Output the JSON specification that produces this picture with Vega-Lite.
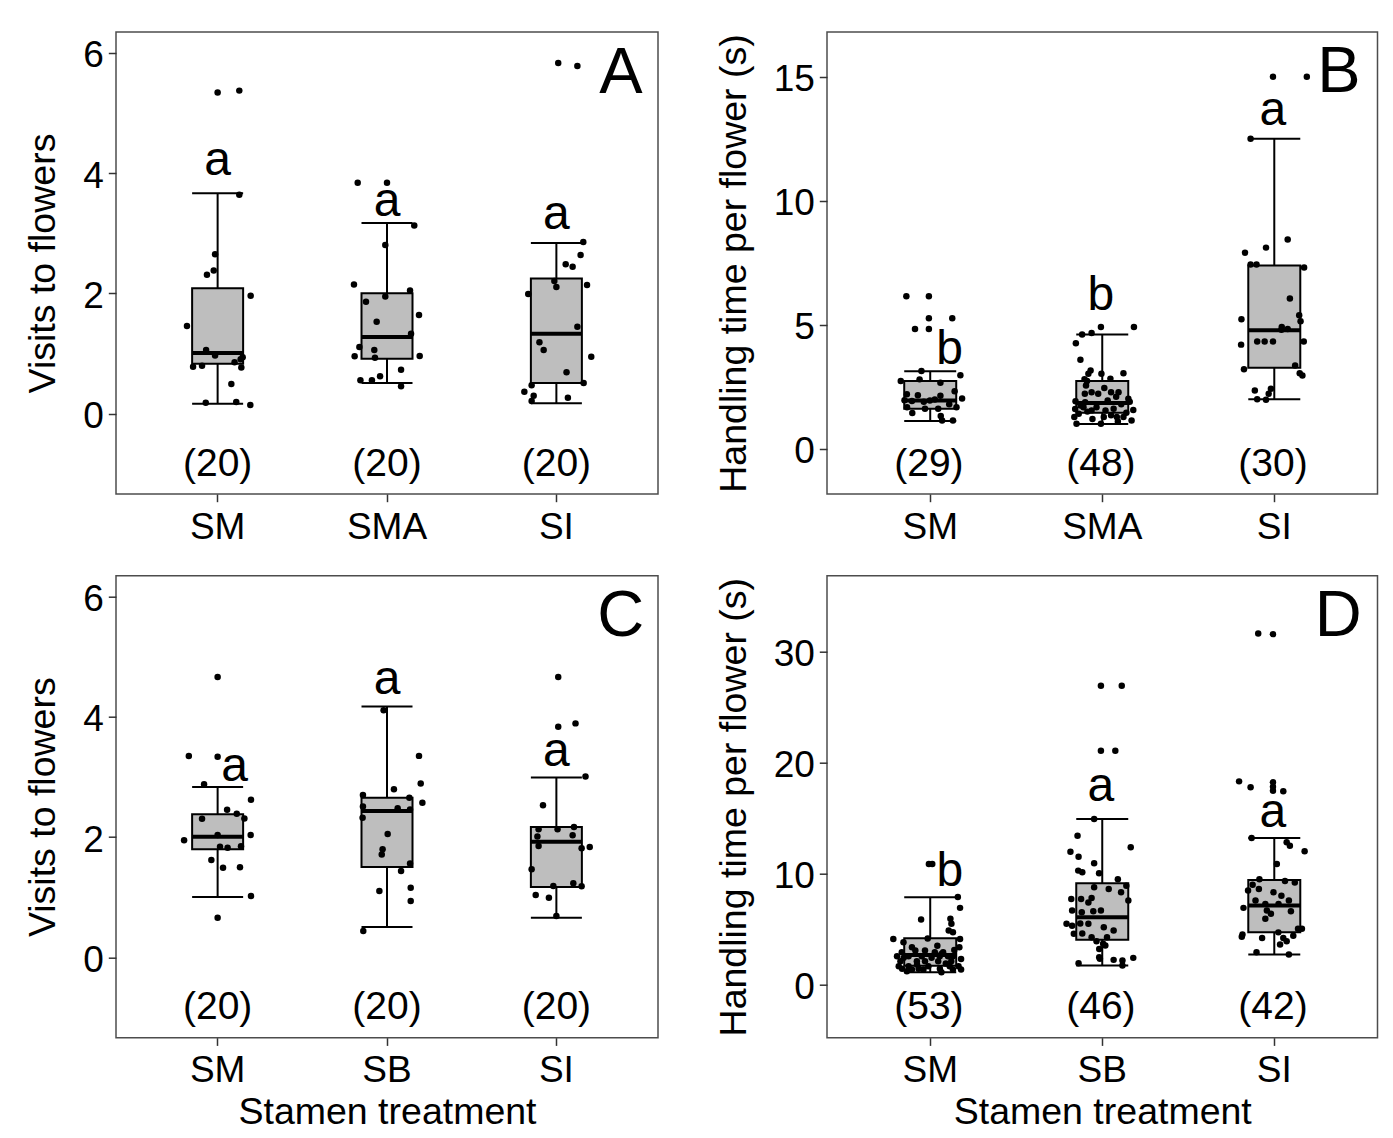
{
"$schema": "https://vega.github.io/schema/vega-lite/v6.json",
"background": "white",
"padding": {"left": 23, "top": 31, "right": 5, "bottom": 5},
"config": {
 "font": "Liberation Sans",
 "view": {"stroke": "#4d4d4d", "strokeWidth": 1.5},
 "axis": {"grid": false, "domain": false, "tickColor": "#333333", "tickWidth": 1.5, "tickSize": 7.7, "labelFontSize": 37, "labelColor": "black", "labelFont": "Liberation Sans", "titleFont": "Liberation Sans", "titleFontSize": 37.5, "titleFontWeight": "normal", "titleColor": "black", "labelPadding": 5, "labelOverlap": false, "labelFlush": false},
 "axisX": {"labelAngle": 0, "labelPadding": 7.5, "titlePadding": 5},
 "axisY": {"titlePadding": 20, "labelOffset": 3, "format": "d"},
 "tick": {"opacity": 1},
 "rule": {"opacity": 1},
 "text": {"font": "Liberation Sans", "color": "black"}
},
"datasets": {
 "boxA": [
  {"c":"SM","lo":0.168,"q1":0.833,"med":1.01,"q3":2.085,"hi":3.664},
  {"c":"SMA","lo":0.512,"q1":0.916,"med":1.276,"q3":2.002,"hi":3.17},
  {"c":"SI","lo":0.174,"q1":0.512,"med":1.33,"q3":2.25,"hi":2.838}
 ],
 "ptsA": [
  {"c":"SM","v":5.34,"j":0},{"c":"SM","v":5.37,"j":0.128},{"c":"SM","v":3.64,"j":0.128},{"c":"SM","v":2.65,"j":-0.015},{"c":"SM","v":2.31,"j":-0.063},{"c":"SM","v":2.38,"j":-0.023},{"c":"SM","v":1.96,"j":0.195},{"c":"SM","v":1.46,"j":-0.181},{"c":"SM","v":1.06,"j":-0.068},{"c":"SM","v":0.97,"j":-0.015},{"c":"SM","v":0.94,"j":0.148},{"c":"SM","v":0.905,"j":0.136},{"c":"SM","v":0.855,"j":0.1},{"c":"SM","v":0.78,"j":-0.145},{"c":"SM","v":0.8,"j":-0.092},{"c":"SM","v":0.77,"j":0.14},{"c":"SM","v":0.495,"j":0.081},{"c":"SM","v":0.185,"j":-0.07},{"c":"SM","v":0.196,"j":0.11},{"c":"SM","v":0.146,"j":0.193},
  {"c":"SMA","v":3.84,"j":-0.173},{"c":"SMA","v":3.84,"j":0},{"c":"SMA","v":2.805,"j":-0.01},{"c":"SMA","v":2.15,"j":-0.195},{"c":"SMA","v":1.86,"j":-0.124},{"c":"SMA","v":1.95,"j":-0.01},{"c":"SMA","v":1.53,"j":-0.061},{"c":"SMA","v":1.11,"j":-0.163},{"c":"SMA","v":1.06,"j":-0.075},{"c":"SMA","v":0.93,"j":-0.071},{"c":"SMA","v":0.955,"j":-0.191},{"c":"SMA","v":0.556,"j":-0.157},{"c":"SMA","v":0.556,"j":-0.089},{"c":"SMA","v":0.623,"j":-0.041},{"c":"SMA","v":3.13,"j":0.161},{"c":"SMA","v":2.05,"j":0.136},{"c":"SMA","v":1.64,"j":0.189},{"c":"SMA","v":1.33,"j":0.142},{"c":"SMA","v":0.96,"j":0.193},{"c":"SMA","v":0.733,"j":0.083},{"c":"SMA","v":0.457,"j":0.083},
  {"c":"SI","v":5.83,"j":0.011},{"c":"SI","v":5.78,"j":0.124},{"c":"SI","v":2.855,"j":0.159},{"c":"SI","v":2.64,"j":0.143},{"c":"SI","v":2.484,"j":0.055},{"c":"SI","v":2.445,"j":0.096},{"c":"SI","v":2.207,"j":-0.012},{"c":"SI","v":2.107,"j":0},{"c":"SI","v":2.14,"j":0.181},{"c":"SI","v":1.99,"j":-0.166},{"c":"SI","v":1.447,"j":0.124},{"c":"SI","v":1.188,"j":-0.1},{"c":"SI","v":1.06,"j":-0.075},{"c":"SI","v":0.949,"j":0.206},{"c":"SI","v":0.69,"j":0.06},{"c":"SI","v":0.512,"j":0.161},{"c":"SI","v":0.473,"j":-0.146},{"c":"SI","v":0.367,"j":-0.189},{"c":"SI","v":0.3,"j":-0.134},{"c":"SI","v":0.213,"j":-0.146},{"c":"SI","v":0.268,"j":0.068}
 ],
 "txtA": [
  {"c":"SM","v":3.97,"j":0,"t":"a","k":"sig"},{"c":"SMA","v":3.29,"j":0,"t":"a","k":"sig"},{"c":"SI","v":3.066,"j":0,"t":"a","k":"sig"},
  {"c":"SM","v":-1.034,"j":0,"t":"(20)","k":"n"},{"c":"SMA","v":-1.034,"j":0,"t":"(20)","k":"n"},{"c":"SI","v":-1.034,"j":0,"t":"(20)","k":"n"},
  {"c":"SI","v":5.336,"j":0.381,"t":"A","k":"panel"}
 ],
 "boxB": [
  {"c":"SM","lo":1.12,"q1":1.62,"med":1.95,"q3":2.73,"hi":3.13},
  {"c":"SMA","lo":1.0,"q1":1.45,"med":1.85,"q3":2.73,"hi":4.61},
  {"c":"SI","lo":2.0,"q1":3.27,"med":4.78,"q3":7.39,"hi":12.5}
 ],
 "ptsB": [
  {"c":"SM","v":6.15,"j":-0.133},{"c":"SM","v":6.15,"j":0},{"c":"SM","v":5.26,"j":0},{"c":"SM","v":5.26,"j":0.138},{"c":"SM","v":4.83,"j":-0.082},{"c":"SM","v":4.83,"j":0},{"c":"SM","v":3.14,"j":-0.044},{"c":"SM","v":2.97,"j":0.186},{"c":"SM","v":2.73,"j":-0.166},{"c":"SM","v":2.8,"j":-0.055},{"c":"SM","v":2.66,"j":0.068},{"c":"SM","v":2.325,"j":0.152},{"c":"SM","v":2.16,"j":-0.065},{"c":"SM","v":2.03,"j":0.196},{"c":"SM","v":2.14,"j":0.068},{"c":"SM","v":1.96,"j":-0.144},{"c":"SM","v":1.93,"j":-0.1},{"c":"SM","v":1.95,"j":0.006},{"c":"SM","v":1.99,"j":0.035},{"c":"SM","v":1.9,"j":-0.03},{"c":"SM","v":1.68,"j":-0.129},{"c":"SM","v":1.62,"j":-0.023},{"c":"SM","v":1.62,"j":0.055},{"c":"SM","v":1.68,"j":0.163},{"c":"SM","v":1.44,"j":-0.098},{"c":"SM","v":1.32,"j":0.07},{"c":"SM","v":1.14,"j":0.078},{"c":"SM","v":1.14,"j":0.142},{"c":"SM","v":2.2,"j":-0.13},{"c":"SM","v":1.8,"j":0.12},
  {"c":"SMA","v":4.91,"j":0},{"c":"SMA","v":4.91,"j":0.195},{"c":"SMA","v":4.67,"j":-0.055},{"c":"SMA","v":4.61,"j":-0.111},{"c":"SMA","v":4.26,"j":-0.148},{"c":"SMA","v":3.59,"j":-0.121},{"c":"SMA","v":3.16,"j":-0.061},{"c":"SMA","v":3.03,"j":-0.074},{"c":"SMA","v":3.03,"j":0.003},{"c":"SMA","v":2.73,"j":-0.082},{"c":"SMA","v":2.55,"j":-0.088},{"c":"SMA","v":2.22,"j":-0.095},{"c":"SMA","v":3.05,"j":0.133},{"c":"SMA","v":2.83,"j":0.056},{"c":"SMA","v":2.02,"j":0.162},{"c":"SMA","v":2.28,"j":0.06},{"c":"SMA","v":2.28,"j":0.104},{"c":"SMA","v":1.57,"j":0.191},{"c":"SMA","v":1.14,"j":0.181},{"c":"SMA","v":1.28,"j":0.133},{"c":"SMA","v":1.28,"j":0.094},{"c":"SMA","v":1.55,"j":0.027},{"c":"SMA","v":1.62,"j":0.075},{"c":"SMA","v":1.28,"j":0.017},{"c":"SMA","v":1.92,"j":-0.15},{"c":"SMA","v":1.41,"j":-0.131},{"c":"SMA","v":1.28,"j":-0.157},{"c":"SMA","v":1.88,"j":-0.093},{"c":"SMA","v":1.55,"j":-0.055},{"c":"SMA","v":1.68,"j":-0.026},{"c":"SMA","v":1.61,"j":-0.152},{"c":"SMA","v":1.68,"j":-0.103},{"c":"SMA","v":1.01,"j":-0.144},{"c":"SMA","v":1.01,"j":0},{"c":"SMA","v":2.28,"j":-0.055},{"c":"SMA","v":2.22,"j":-0.016},{"c":"SMA","v":2.81,"j":-0.097},{"c":"SMA","v":1.95,"j":0.04},{"c":"SMA","v":1.8,"j":0.12},{"c":"SMA","v":1.45,"j":0.15},{"c":"SMA","v":1.2,"j":-0.05},{"c":"SMA","v":1.35,"j":0.06},{"c":"SMA","v":2.1,"j":0.09},{"c":"SMA","v":1.75,"j":-0.12},{"c":"SMA","v":1.1,"j":0.1},{"c":"SMA","v":2.45,"j":0.02},{"c":"SMA","v":1.5,"j":-0.08},{"c":"SMA","v":1.9,"j":0.17},
  {"c":"SI","v":15.0,"j":0},{"c":"SI","v":15.0,"j":0.2},{"c":"SI","v":12.5,"j":-0.132},{"c":"SI","v":8.44,"j":0.087},{"c":"SI","v":8.11,"j":-0.041},{"c":"SI","v":7.9,"j":-0.165},{"c":"SI","v":7.43,"j":-0.132},{"c":"SI","v":7.43,"j":-0.097},{"c":"SI","v":7.31,"j":0.184},{"c":"SI","v":6.06,"j":0.1},{"c":"SI","v":5.22,"j":-0.186},{"c":"SI","v":5.38,"j":0.155},{"c":"SI","v":5.14,"j":0.163},{"c":"SI","v":4.91,"j":0.052},{"c":"SI","v":4.83,"j":0.087},{"c":"SI","v":4.33,"j":-0.093},{"c":"SI","v":4.33,"j":-0.049},{"c":"SI","v":4.33,"j":0},{"c":"SI","v":4.2,"j":-0.188},{"c":"SI","v":4.33,"j":0.182},{"c":"SI","v":3.36,"j":0.131},{"c":"SI","v":3.21,"j":-0.171},{"c":"SI","v":3.05,"j":0.158},{"c":"SI","v":2.96,"j":0.174},{"c":"SI","v":2.42,"j":-0.012},{"c":"SI","v":2.35,"j":-0.107},{"c":"SI","v":2.22,"j":-0.025},{"c":"SI","v":2.0,"j":-0.093},{"c":"SI","v":1.98,"j":-0.041},{"c":"SI","v":4.8,"j":0.05}
 ],
 "txtB": [
  {"c":"SM","v":3.43,"j":0.122,"t":"b","k":"sig"},{"c":"SMA","v":5.6,"j":0,"t":"b","k":"sig"},{"c":"SI","v":13.05,"j":0,"t":"a","k":"sig"},
  {"c":"SM","v":-1.08,"j":0,"t":"(29)","k":"n"},{"c":"SMA","v":-1.08,"j":0,"t":"(48)","k":"n"},{"c":"SI","v":-1.08,"j":0,"t":"(30)","k":"n"},
  {"c":"SI","v":14.4,"j":0.39,"t":"B","k":"panel"}
 ],
 "boxC": [
  {"c":"SM","lo":1.005,"q1":1.8,"med":2.008,"q3":2.38,"hi":2.833},
  {"c":"SB","lo":0.507,"q1":1.504,"med":2.434,"q3":2.655,"hi":4.17},
  {"c":"SI","lo":0.661,"q1":1.17,"med":1.925,"q3":2.17,"hi":2.99}
 ],
 "ptsC": [
  {"c":"SM","v":4.66,"j":0},{"c":"SM","v":3.348,"j":-0.17},{"c":"SM","v":3.337,"j":0},{"c":"SM","v":2.878,"j":-0.08},{"c":"SM","v":2.62,"j":0.197},{"c":"SM","v":2.456,"j":0.056},{"c":"SM","v":2.39,"j":0.113},{"c":"SM","v":2.31,"j":0.158},{"c":"SM","v":2.306,"j":-0.092},{"c":"SM","v":1.948,"j":-0.198},{"c":"SM","v":2.035,"j":0},{"c":"SM","v":2.035,"j":0.195},{"c":"SM","v":1.84,"j":0.014},{"c":"SM","v":1.825,"j":0.059},{"c":"SM","v":1.85,"j":0.138},{"c":"SM","v":1.62,"j":-0.037},{"c":"SM","v":1.49,"j":0.032},{"c":"SM","v":1.5,"j":0.132},{"c":"SM","v":1.02,"j":0.197},{"c":"SM","v":0.66,"j":0},
  {"c":"SB","v":4.11,"j":-0.02},{"c":"SB","v":2.795,"j":0.041},{"c":"SB","v":2.7,"j":-0.142},{"c":"SB","v":2.51,"j":-0.142},{"c":"SB","v":2.32,"j":-0.144},{"c":"SB","v":2.05,"j":0.004},{"c":"SB","v":1.8,"j":-0.026},{"c":"SB","v":1.71,"j":-0.031},{"c":"SB","v":1.105,"j":-0.045},{"c":"SB","v":0.44,"j":-0.14},{"c":"SB","v":3.35,"j":0.189},{"c":"SB","v":2.89,"j":0.199},{"c":"SB","v":2.57,"j":0.209},{"c":"SB","v":2.655,"j":0.132},{"c":"SB","v":2.48,"j":0.063},{"c":"SB","v":2.46,"j":0.136},{"c":"SB","v":1.56,"j":0.136},{"c":"SB","v":1.437,"j":0.083},{"c":"SB","v":1.16,"j":0.14},{"c":"SB","v":0.94,"j":0.14},
  {"c":"SI","v":4.66,"j":0.011},{"c":"SI","v":3.835,"j":0.011},{"c":"SI","v":3.89,"j":0.113},{"c":"SI","v":3.007,"j":0.172},{"c":"SI","v":2.53,"j":-0.079},{"c":"SI","v":2.13,"j":-0.105},{"c":"SI","v":2.13,"j":0.007},{"c":"SI","v":2.17,"j":0.104},{"c":"SI","v":2.01,"j":-0.112},{"c":"SI","v":2.03,"j":0.096},{"c":"SI","v":1.853,"j":-0.105},{"c":"SI","v":1.815,"j":0.149},{"c":"SI","v":1.836,"j":0.197},{"c":"SI","v":1.465,"j":-0.146},{"c":"SI","v":1.188,"j":-0.018},{"c":"SI","v":1.233,"j":0.1},{"c":"SI","v":1.183,"j":0.149},{"c":"SI","v":1.04,"j":-0.122},{"c":"SI","v":0.994,"j":-0.044},{"c":"SI","v":0.69,"j":0}
 ],
 "txtC": [
  {"c":"SM","v":2.93,"j":0.1,"t":"a","k":"sig"},{"c":"SB","v":4.37,"j":0,"t":"a","k":"sig"},{"c":"SI","v":3.18,"j":0,"t":"a","k":"sig"},
  {"c":"SM","v":-1.03,"j":0,"t":"(20)","k":"n"},{"c":"SB","v":-1.03,"j":0,"t":"(20)","k":"n"},{"c":"SI","v":-1.03,"j":0,"t":"(20)","k":"n"},
  {"c":"SI","v":5.34,"j":0.38,"t":"C","k":"panel"}
 ],
 "boxD": [
  {"c":"SM","lo":1.11,"q1":1.7,"med":2.67,"q3":4.17,"hi":7.87},
  {"c":"SB","lo":1.71,"q1":4.03,"med":6.06,"q3":9.13,"hi":14.93},
  {"c":"SI","lo":2.7,"q1":4.71,"med":7.12,"q3":9.43,"hi":13.21}
 ],
 "ptsD": [
  {"c":"SM","v":10.87,"j":0},{"c":"SM","v":10.87,"j":0.02},{"c":"SM","v":7.9,"j":0.171},{"c":"SM","v":6.91,"j":0.184},{"c":"SM","v":5.92,"j":0.127},{"c":"SM","v":5.47,"j":0.133},{"c":"SM","v":4.86,"j":0.117},{"c":"SM","v":4.71,"j":0.142},{"c":"SM","v":5.86,"j":-0.046},{"c":"SM","v":4.11,"j":-0.21},{"c":"SM","v":4.14,"j":-0.007},{"c":"SM","v":4.11,"j":0.184},{"c":"SM","v":3.36,"j":0.18},{"c":"SM","v":3.36,"j":-0.1},{"c":"SM","v":3.06,"j":-0.08},{"c":"SM","v":3.06,"j":-0.023},{"c":"SM","v":2.91,"j":0.035},{"c":"SM","v":2.76,"j":0.074},{"c":"SM","v":2.91,"j":0.084},{"c":"SM","v":2.55,"j":-0.188},{"c":"SM","v":2.4,"j":-0.149},{"c":"SM","v":2.55,"j":-0.12},{"c":"SM","v":2.55,"j":-0.042},{"c":"SM","v":2.4,"j":0.016},{"c":"SM","v":2.55,"j":0.064},{"c":"SM","v":2.55,"j":0.113},{"c":"SM","v":2.55,"j":0.142},{"c":"SM","v":2.1,"j":-0.168},{"c":"SM","v":2.1,"j":-0.071},{"c":"SM","v":2.1,"j":-0.023},{"c":"SM","v":2.1,"j":0.055},{"c":"SM","v":2.1,"j":0.132},{"c":"SM","v":1.65,"j":-0.178},{"c":"SM","v":1.65,"j":-0.12},{"c":"SM","v":1.41,"j":-0.061},{"c":"SM","v":1.65,"j":-0.003},{"c":"SM","v":1.41,"j":0.065},{"c":"SM","v":1.65,"j":0.123},{"c":"SM","v":1.65,"j":0.175},{"c":"SM","v":1.35,"j":0.19},{"c":"SM","v":1.41,"j":-0.158},{"c":"SM","v":1.35,"j":-0.1},{"c":"SM","v":1.35,"j":-0.032},{"c":"SM","v":1.11,"j":0.074},{"c":"SM","v":1.35,"j":0.142},{"c":"SM","v":3.8,"j":-0.15},{"c":"SM","v":3.5,"j":0.05},{"c":"SM","v":2.9,"j":-0.16},{"c":"SM","v":1.9,"j":0.1},{"c":"SM","v":1.2,"j":-0.13},{"c":"SM","v":2.3,"j":0.19},{"c":"SM","v":1.8,"j":-0.07},{"c":"SM","v":3.1,"j":0.15},
  {"c":"SB","v":26.94,"j":0},{"c":"SB","v":26.94,"j":0.123},{"c":"SB","v":21.08,"j":0},{"c":"SB","v":21.08,"j":0.085},{"c":"SB","v":14.93,"j":-0.04},{"c":"SB","v":13.42,"j":-0.138},{"c":"SB","v":11.98,"j":-0.18},{"c":"SB","v":11.53,"j":-0.132},{"c":"SB","v":10.27,"j":-0.134},{"c":"SB","v":10.12,"j":-0.11},{"c":"SB","v":10.93,"j":-0.04},{"c":"SB","v":10.03,"j":-0.011},{"c":"SB","v":8.77,"j":-0.04},{"c":"SB","v":7.72,"j":-0.175},{"c":"SB","v":7.72,"j":-0.117},{"c":"SB","v":7.4,"j":-0.074},{"c":"SB","v":7.8,"j":-0.055},{"c":"SB","v":6.67,"j":-0.17},{"c":"SB","v":6.51,"j":-0.113},{"c":"SB","v":6.6,"j":-0.045},{"c":"SB","v":5.47,"j":-0.203},{"c":"SB","v":5.3,"j":-0.17},{"c":"SB","v":5.5,"j":-0.122},{"c":"SB","v":5.47,"j":-0.074},{"c":"SB","v":4.57,"j":-0.16},{"c":"SB","v":4.6,"j":-0.11},{"c":"SB","v":4.26,"j":-0.055},{"c":"SB","v":3.9,"j":-0.026},{"c":"SB","v":3.67,"j":0.013},{"c":"SB","v":2.32,"j":-0.006},{"c":"SB","v":1.92,"j":-0.132},{"c":"SB","v":12.37,"j":0.176},{"c":"SB","v":8.62,"j":0.046},{"c":"SB","v":8.32,"j":0.119},{"c":"SB","v":7.57,"j":0.162},{"c":"SB","v":6.67,"j":0.0},{"c":"SB","v":5.16,"j":0.017},{"c":"SB","v":4.86,"j":0.075},{"c":"SB","v":4.26,"j":0.036},{"c":"SB","v":3.51,"j":0.026},{"c":"SB","v":3.21,"j":-0.01},{"c":"SB","v":2.46,"j":-0.01},{"c":"SB","v":2.22,"j":0.075},{"c":"SB","v":2.16,"j":0.127},{"c":"SB","v":2.4,"j":0.191},{"c":"SB","v":1.71,"j":0.127},{"c":"SB","v":9.5,"j":0.1},{"c":"SB","v":8.9,"j":0.15},
  {"c":"SI","v":31.65,"j":-0.087},{"c":"SI","v":31.6,"j":0},{"c":"SI","v":18.32,"j":-0.2},{"c":"SI","v":17.78,"j":-0.132},{"c":"SI","v":18.23,"j":0},{"c":"SI","v":17.84,"j":0},{"c":"SI","v":17.48,"j":0},{"c":"SI","v":17.42,"j":0.061},{"c":"SI","v":13.21,"j":-0.126},{"c":"SI","v":12.82,"j":0.081},{"c":"SI","v":12.52,"j":0.1},{"c":"SI","v":12.01,"j":0.187},{"c":"SI","v":10.87,"j":0.023},{"c":"SI","v":9.5,"j":-0.08},{"c":"SI","v":9.33,"j":0.071},{"c":"SI","v":9.2,"j":0.129},{"c":"SI","v":8.47,"j":-0.147},{"c":"SI","v":8.62,"j":-0.083},{"c":"SI","v":8.32,"j":0.003},{"c":"SI","v":7.57,"j":0.094},{"c":"SI","v":7.57,"j":-0.103},{"c":"SI","v":7.27,"j":-0.045},{"c":"SI","v":7.27,"j":0.033},{"c":"SI","v":6.67,"j":-0.036},{"c":"SI","v":6.37,"j":-0.012},{"c":"SI","v":6.6,"j":0.106},{"c":"SI","v":6.91,"j":-0.174},{"c":"SI","v":5.92,"j":-0.045},{"c":"SI","v":5.02,"j":0.148},{"c":"SI","v":5.02,"j":0.171},{"c":"SI","v":4.3,"j":-0.184},{"c":"SI","v":4.2,"j":-0.064},{"c":"SI","v":4.7,"j":0.032},{"c":"SI","v":4.2,"j":0.061},{"c":"SI","v":3.9,"j":0.081},{"c":"SI","v":4.4,"j":0.12},{"c":"SI","v":3.6,"j":0.042},{"c":"SI","v":4.5,"j":-0.18},{"c":"SI","v":2.91,"j":-0.097},{"c":"SI","v":2.7,"j":0.094},{"c":"SI","v":8.0,"j":0.05},{"c":"SI","v":9.0,"j":-0.12}
 ],
 "txtD": [
  {"c":"SM","v":8.92,"j":0.124,"t":"b","k":"sig"},{"c":"SB","v":16.58,"j":0,"t":"a","k":"sig"},{"c":"SI","v":14.17,"j":0,"t":"a","k":"sig"},
  {"c":"SM","v":-3.09,"j":0,"t":"(53)","k":"n"},{"c":"SB","v":-3.09,"j":0,"t":"(46)","k":"n"},{"c":"SI","v":-3.09,"j":0,"t":"(42)","k":"n"},
  {"c":"SI","v":31.44,"j":0.386,"t":"D","k":"panel"}
 ]
},
"bounds": "flush",
"columns": 2,
"spacing": {"row": 81.7, "column": 169},
"concat": [
  {"width": 542, "height": 462,
   "encoding": {"x": {"field": "c", "type": "nominal", "sort": null, "scale": {"type": "band", "domain": ["SM","SMA","SI"], "paddingInner": 0, "paddingOuter": 0.1}, "axis": {"title": null}}},
   "layer": [
    {"data": {"name": "boxA"}, "mark": {"type": "rule", "color": "black", "strokeWidth": 2}, "encoding": {"y": {"field": "lo", "type": "quantitative", "title": "Visits to flowers", "scale": {"domain": [-1.333, 6.344], "nice": false, "zero": false}, "axis": {"values": [0,2,4,6]}}, "y2": {"field": "hi"}}},
    {"data": {"name": "boxA"}, "mark": {"type": "tick", "color": "black", "size": 51, "thickness": 2}, "encoding": {"y": {"field": "lo", "type": "quantitative", "title": "Visits to flowers"}}},
    {"data": {"name": "boxA"}, "mark": {"type": "tick", "color": "black", "size": 51, "thickness": 2}, "encoding": {"y": {"field": "hi", "type": "quantitative", "title": "Visits to flowers"}}},
    {"data": {"name": "boxA"}, "mark": {"type": "bar", "fill": "#bebebe", "stroke": "black", "strokeWidth": 2, "width": 51}, "encoding": {"y": {"field": "q1", "type": "quantitative", "title": "Visits to flowers"}, "y2": {"field": "q3"}}},
    {"data": {"name": "boxA"}, "mark": {"type": "tick", "color": "black", "size": 51, "thickness": 4}, "encoding": {"y": {"field": "med", "type": "quantitative", "title": "Visits to flowers"}}},
    {"data": {"name": "ptsA"}, "mark": {"type": "circle", "color": "black", "opacity": 1, "size": 42}, "encoding": {"xOffset": {"field": "j", "type": "quantitative", "scale": {"domain": [-0.5, 0.5]}}, "y": {"field": "v", "type": "quantitative", "title": "Visits to flowers"}}},
    {"data": {"name": "txtA"}, "transform": [{"filter": {"field": "k", "equal": "sig"}}], "mark": {"type": "text", "fontSize": 48, "align": "center", "baseline": "alphabetic"}, "encoding": {"xOffset": {"field": "j", "type": "quantitative"}, "y": {"field": "v", "type": "quantitative", "title": "Visits to flowers"}, "text": {"field": "t"}}},
    {"data": {"name": "txtA"}, "transform": [{"filter": {"field": "k", "equal": "n"}}], "mark": {"type": "text", "fontSize": 39, "align": "center", "baseline": "alphabetic"}, "encoding": {"xOffset": {"field": "j", "type": "quantitative"}, "y": {"field": "v", "type": "quantitative", "title": "Visits to flowers"}, "text": {"field": "t"}}},
    {"data": {"name": "txtA"}, "transform": [{"filter": {"field": "k", "equal": "panel"}}], "mark": {"type": "text", "fontSize": 65, "align": "center", "baseline": "alphabetic"}, "encoding": {"xOffset": {"field": "j", "type": "quantitative"}, "y": {"field": "v", "type": "quantitative", "title": "Visits to flowers"}, "text": {"field": "t"}}}
   ]
  },
  {"width": 550.5, "height": 462,
   "encoding": {"x": {"field": "c", "type": "nominal", "sort": null, "scale": {"type": "band", "domain": ["SM","SMA","SI"], "paddingInner": 0, "paddingOuter": 0.1}, "axis": {"title": null}}},
   "layer": [
    {"data": {"name": "boxB"}, "mark": {"type": "rule", "color": "black", "strokeWidth": 2}, "encoding": {"y": {"field": "lo", "type": "quantitative", "title": "Handling time per flower (s)", "scale": {"domain": [-1.82, 16.8], "nice": false, "zero": false}, "axis": {"values": [0,5,10,15]}}, "y2": {"field": "hi"}}},
    {"data": {"name": "boxB"}, "mark": {"type": "tick", "color": "black", "size": 52, "thickness": 2}, "encoding": {"y": {"field": "lo", "type": "quantitative", "title": "Handling time per flower (s)"}}},
    {"data": {"name": "boxB"}, "mark": {"type": "tick", "color": "black", "size": 52, "thickness": 2}, "encoding": {"y": {"field": "hi", "type": "quantitative", "title": "Handling time per flower (s)"}}},
    {"data": {"name": "boxB"}, "mark": {"type": "bar", "fill": "#bebebe", "stroke": "black", "strokeWidth": 2, "width": 52}, "encoding": {"y": {"field": "q1", "type": "quantitative", "title": "Handling time per flower (s)"}, "y2": {"field": "q3"}}},
    {"data": {"name": "boxB"}, "mark": {"type": "tick", "color": "black", "size": 52, "thickness": 4}, "encoding": {"y": {"field": "med", "type": "quantitative", "title": "Handling time per flower (s)"}}},
    {"data": {"name": "ptsB"}, "mark": {"type": "circle", "color": "black", "opacity": 1, "size": 42}, "encoding": {"xOffset": {"field": "j", "type": "quantitative", "scale": {"domain": [-0.5, 0.5]}}, "y": {"field": "v", "type": "quantitative", "title": "Handling time per flower (s)"}}},
    {"data": {"name": "txtB"}, "transform": [{"filter": {"field": "k", "equal": "sig"}}], "mark": {"type": "text", "fontSize": 48, "align": "center", "baseline": "alphabetic"}, "encoding": {"xOffset": {"field": "j", "type": "quantitative"}, "y": {"field": "v", "type": "quantitative", "title": "Handling time per flower (s)"}, "text": {"field": "t"}}},
    {"data": {"name": "txtB"}, "transform": [{"filter": {"field": "k", "equal": "n"}}], "mark": {"type": "text", "fontSize": 39, "align": "center", "baseline": "alphabetic"}, "encoding": {"xOffset": {"field": "j", "type": "quantitative"}, "y": {"field": "v", "type": "quantitative", "title": "Handling time per flower (s)"}, "text": {"field": "t"}}},
    {"data": {"name": "txtB"}, "transform": [{"filter": {"field": "k", "equal": "panel"}}], "mark": {"type": "text", "fontSize": 65, "align": "center", "baseline": "alphabetic"}, "encoding": {"xOffset": {"field": "j", "type": "quantitative"}, "y": {"field": "v", "type": "quantitative", "title": "Handling time per flower (s)"}, "text": {"field": "t"}}}
   ]
  },
  {"width": 542, "height": 462,
   "encoding": {"x": {"field": "c", "type": "nominal", "sort": null, "scale": {"type": "band", "domain": ["SM","SB","SI"], "paddingInner": 0, "paddingOuter": 0.1}, "axis": {"title": "Stamen treatment"}}},
   "layer": [
    {"data": {"name": "boxC"}, "mark": {"type": "rule", "color": "black", "strokeWidth": 2}, "encoding": {"y": {"field": "lo", "type": "quantitative", "title": "Visits to flowers", "scale": {"domain": [-1.333, 6.344], "nice": false, "zero": false}, "axis": {"values": [0,2,4,6]}}, "y2": {"field": "hi"}}},
    {"data": {"name": "boxC"}, "mark": {"type": "tick", "color": "black", "size": 51, "thickness": 2}, "encoding": {"y": {"field": "lo", "type": "quantitative", "title": "Visits to flowers"}}},
    {"data": {"name": "boxC"}, "mark": {"type": "tick", "color": "black", "size": 51, "thickness": 2}, "encoding": {"y": {"field": "hi", "type": "quantitative", "title": "Visits to flowers"}}},
    {"data": {"name": "boxC"}, "mark": {"type": "bar", "fill": "#bebebe", "stroke": "black", "strokeWidth": 2, "width": 51}, "encoding": {"y": {"field": "q1", "type": "quantitative", "title": "Visits to flowers"}, "y2": {"field": "q3"}}},
    {"data": {"name": "boxC"}, "mark": {"type": "tick", "color": "black", "size": 51, "thickness": 4}, "encoding": {"y": {"field": "med", "type": "quantitative", "title": "Visits to flowers"}}},
    {"data": {"name": "ptsC"}, "mark": {"type": "circle", "color": "black", "opacity": 1, "size": 42}, "encoding": {"xOffset": {"field": "j", "type": "quantitative", "scale": {"domain": [-0.5, 0.5]}}, "y": {"field": "v", "type": "quantitative", "title": "Visits to flowers"}}},
    {"data": {"name": "txtC"}, "transform": [{"filter": {"field": "k", "equal": "sig"}}], "mark": {"type": "text", "fontSize": 48, "align": "center", "baseline": "alphabetic"}, "encoding": {"xOffset": {"field": "j", "type": "quantitative"}, "y": {"field": "v", "type": "quantitative", "title": "Visits to flowers"}, "text": {"field": "t"}}},
    {"data": {"name": "txtC"}, "transform": [{"filter": {"field": "k", "equal": "n"}}], "mark": {"type": "text", "fontSize": 39, "align": "center", "baseline": "alphabetic"}, "encoding": {"xOffset": {"field": "j", "type": "quantitative"}, "y": {"field": "v", "type": "quantitative", "title": "Visits to flowers"}, "text": {"field": "t"}}},
    {"data": {"name": "txtC"}, "transform": [{"filter": {"field": "k", "equal": "panel"}}], "mark": {"type": "text", "fontSize": 65, "align": "center", "baseline": "alphabetic"}, "encoding": {"xOffset": {"field": "j", "type": "quantitative"}, "y": {"field": "v", "type": "quantitative", "title": "Visits to flowers"}, "text": {"field": "t"}}}
   ]
  },
  {"width": 550.5, "height": 462,
   "encoding": {"x": {"field": "c", "type": "nominal", "sort": null, "scale": {"type": "band", "domain": ["SM","SB","SI"], "paddingInner": 0, "paddingOuter": 0.1}, "axis": {"title": "Stamen treatment"}}},
   "layer": [
    {"data": {"name": "boxD"}, "mark": {"type": "rule", "color": "black", "strokeWidth": 2}, "encoding": {"y": {"field": "lo", "type": "quantitative", "title": "Handling time per flower (s)", "scale": {"domain": [-4.8, 36.87], "nice": false, "zero": false}, "axis": {"values": [0,10,20,30]}}, "y2": {"field": "hi"}}},
    {"data": {"name": "boxD"}, "mark": {"type": "tick", "color": "black", "size": 52, "thickness": 2}, "encoding": {"y": {"field": "lo", "type": "quantitative", "title": "Handling time per flower (s)"}}},
    {"data": {"name": "boxD"}, "mark": {"type": "tick", "color": "black", "size": 52, "thickness": 2}, "encoding": {"y": {"field": "hi", "type": "quantitative", "title": "Handling time per flower (s)"}}},
    {"data": {"name": "boxD"}, "mark": {"type": "bar", "fill": "#bebebe", "stroke": "black", "strokeWidth": 2, "width": 52}, "encoding": {"y": {"field": "q1", "type": "quantitative", "title": "Handling time per flower (s)"}, "y2": {"field": "q3"}}},
    {"data": {"name": "boxD"}, "mark": {"type": "tick", "color": "black", "size": 52, "thickness": 4}, "encoding": {"y": {"field": "med", "type": "quantitative", "title": "Handling time per flower (s)"}}},
    {"data": {"name": "ptsD"}, "mark": {"type": "circle", "color": "black", "opacity": 1, "size": 42}, "encoding": {"xOffset": {"field": "j", "type": "quantitative", "scale": {"domain": [-0.5, 0.5]}}, "y": {"field": "v", "type": "quantitative", "title": "Handling time per flower (s)"}}},
    {"data": {"name": "txtD"}, "transform": [{"filter": {"field": "k", "equal": "sig"}}], "mark": {"type": "text", "fontSize": 48, "align": "center", "baseline": "alphabetic"}, "encoding": {"xOffset": {"field": "j", "type": "quantitative"}, "y": {"field": "v", "type": "quantitative", "title": "Handling time per flower (s)"}, "text": {"field": "t"}}},
    {"data": {"name": "txtD"}, "transform": [{"filter": {"field": "k", "equal": "n"}}], "mark": {"type": "text", "fontSize": 39, "align": "center", "baseline": "alphabetic"}, "encoding": {"xOffset": {"field": "j", "type": "quantitative"}, "y": {"field": "v", "type": "quantitative", "title": "Handling time per flower (s)"}, "text": {"field": "t"}}},
    {"data": {"name": "txtD"}, "transform": [{"filter": {"field": "k", "equal": "panel"}}], "mark": {"type": "text", "fontSize": 65, "align": "center", "baseline": "alphabetic"}, "encoding": {"xOffset": {"field": "j", "type": "quantitative"}, "y": {"field": "v", "type": "quantitative", "title": "Handling time per flower (s)"}, "text": {"field": "t"}}}
   ]
  }
]
}
